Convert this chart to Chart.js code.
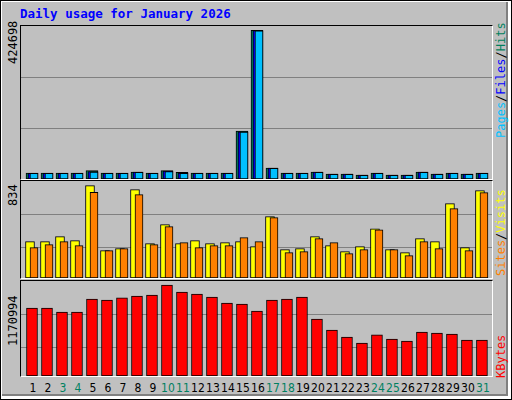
<!DOCTYPE html>
<html><head><meta charset="utf-8">
<script src="https://cdn.jsdelivr.net/npm/chart.js@4/dist/chart.umd.min.js"></script>
<style>
body{margin:0;background:#fff}
#wrap{position:absolute;left:0;top:0;width:510px;height:398px;border:1px solid #000;background:#fff}
#inner{position:absolute;left:2px;top:2px;width:506px;height:394px;background:#c0c0c0;border-right:2px solid #808080;border-bottom:2px solid #808080;box-sizing:border-box}
.panel{position:absolute;left:20px;width:471px;border-top:1px solid #000;border-left:1px solid #000;border-right:1px solid #fff;border-bottom:1px solid #fff;box-sizing:content-box}
canvas{display:block}
.t{position:absolute;font-family:"DejaVu Sans Mono",monospace;white-space:nowrap}
.rot{transform-origin:0 0;transform:rotate(-90deg)}
</style></head><body>
<div id="wrap"></div><div id="inner"></div>
<div class="t" style="left:20px;top:6px;color:#0000ff;font-weight:bold;font-size:12.5px">Daily usage for January 2026</div>
<div class="panel" style="top:25px;height:153px"><canvas id="c1" width="471" height="153"></canvas></div>
<div class="panel" style="top:180px;height:97px"><canvas id="c2" width="471" height="97"></canvas></div>
<div class="panel" style="top:280px;height:95px"><canvas id="c3" width="471" height="95"></canvas></div>
<div class="t rot" style="left:6px;top:64px;font-size:12px">424698</div>
<div class="t rot" style="left:6px;top:206px;font-size:12px">834</div>
<div class="t rot" style="left:6px;top:346px;font-size:12px">1170994</div>
<div class="t rot" style="left:494px;top:138px;font-size:12px"><span style="color:#00c0ff">Pages</span><span style="color:#000">/</span><span style="color:#0000ff">Files</span><span style="color:#000">/</span><span style="color:#00805c">Hits</span></div>
<div class="t rot" style="left:494px;top:276px;font-size:12px"><span style="color:#ff8000">Sites</span><span style="color:#000">/</span><span style="color:#ffff00">Visits</span></div>
<div class="t rot" style="left:494px;top:378px;font-size:12px;color:#ff0000">KBytes</div>
<div id="days"></div>
<script>
const days=[1,2,3,4,5,6,7,8,9,10,11,12,13,14,15,16,17,18,19,20,21,22,23,24,25,26,27,28,29,30,31];
const weekend=[3,4,10,11,17,18,24,25,31];
const hits=[17000,17000,17000,17000,23700,17000,17000,20000,17000,23700,19000,17000,17000,17000,136800,424698,31300,17000,17000,20000,14250,14250,11400,17000,11400,11400,20000,14250,17000,14250,17000];
const files=[16500,16500,16500,16500,21000,16500,16500,19500,16500,22500,17000,16500,16500,16500,135000,424000,31000,16500,16500,19500,14000,14000,11000,16500,11000,11000,19500,14000,16500,14000,16500];
const pages=[16000,16000,16000,16000,20000,16000,16000,19000,16000,21500,16000,16000,16000,16000,134000,423500,30500,16000,16000,19000,13500,13500,10500,16000,10500,10500,19000,13500,16000,13500,16000];
const visits=[328,328,373,337,834,247,265,798,310,482,310,337,310,319,328,283,554,256,265,373,292,238,283,445,256,229,355,328,671,274,789];
const sites=[274,301,328,292,774,247,265,753,301,464,319,274,292,292,364,328,545,229,238,355,319,220,256,436,256,202,328,265,626,247,771];
const kbytes=[875000,875000,823000,823000,991000,978000,1004000,1029000,1042000,1170994,1081000,1055000,1016000,939000,926000,836000,978000,991000,1016000,733000,592000,502000,425000,528000,476000,450000,566000,553000,540000,463000,463000];

const xMin=0.267,xMax=31.67,pxDay=471/(xMax-xMin);
const grid={id:'g',beforeDatasetsDraw(c,a,o){const x=c.ctx,ca=c.chartArea;x.save();x.strokeStyle='#808080';x.lineWidth=1;
 for(const f of o.lines){const y=Math.round(ca.top+f)+0.5;x.beginPath();x.moveTo(ca.left,y);x.lineTo(ca.right,y);x.stroke();}x.restore();}};
function ds(vals,off,w,color,order){return{data:vals.map((v,i)=>({x:days[i]+off/pxDay,y:v})),backgroundColor:color,borderColor:'#000',borderWidth:1,borderSkipped:false,barThickness:w,order:order,grouped:false};}
function mk(id,sets,ymax,lines){
 new Chart(document.getElementById(id),{type:'bar',data:{datasets:sets},plugins:[grid],
 options:{responsive:false,animation:false,layout:{padding:0},
 plugins:{legend:{display:false},tooltip:{enabled:false},g:{lines:lines}},
 scales:{x:{type:'linear',min:xMin,max:xMax,offset:false,display:false},y:{min:0,max:ymax,display:false}}}});
}
mk('c1',[ds(hits,0,12,'#00805c',3),ds(files,1,10,'#0000ff',2),ds(pages,2,8,'#00c0ff',1)],437000,[51.3,102.3]);
mk('c2',[ds(visits,-2,9,'#ffff00',2),ds(sites,2,8,'#ff8000',1)],876,[33.3,66.3]);
mk('c3',[ds(kbytes,0,11,'#ff0000',1)],1222000,[33.3,66.3]);
const dd=document.getElementById('days');
days.forEach(d=>{const e=document.createElement('div');e.className='t';e.textContent=d;e.style.fontSize='12px';
 e.style.fontFamily='"Liberation Sans Narrow","DejaVu Sans Condensed",sans-serif';
 e.style.color=weekend.includes(d)?'#008060':'#000';e.style.top='381px';e.style.width='20px';e.style.textAlign='center';
 e.style.left=(21+(d-xMin)*pxDay+1-10)+'px';dd.appendChild(e);});
</script></body></html>
